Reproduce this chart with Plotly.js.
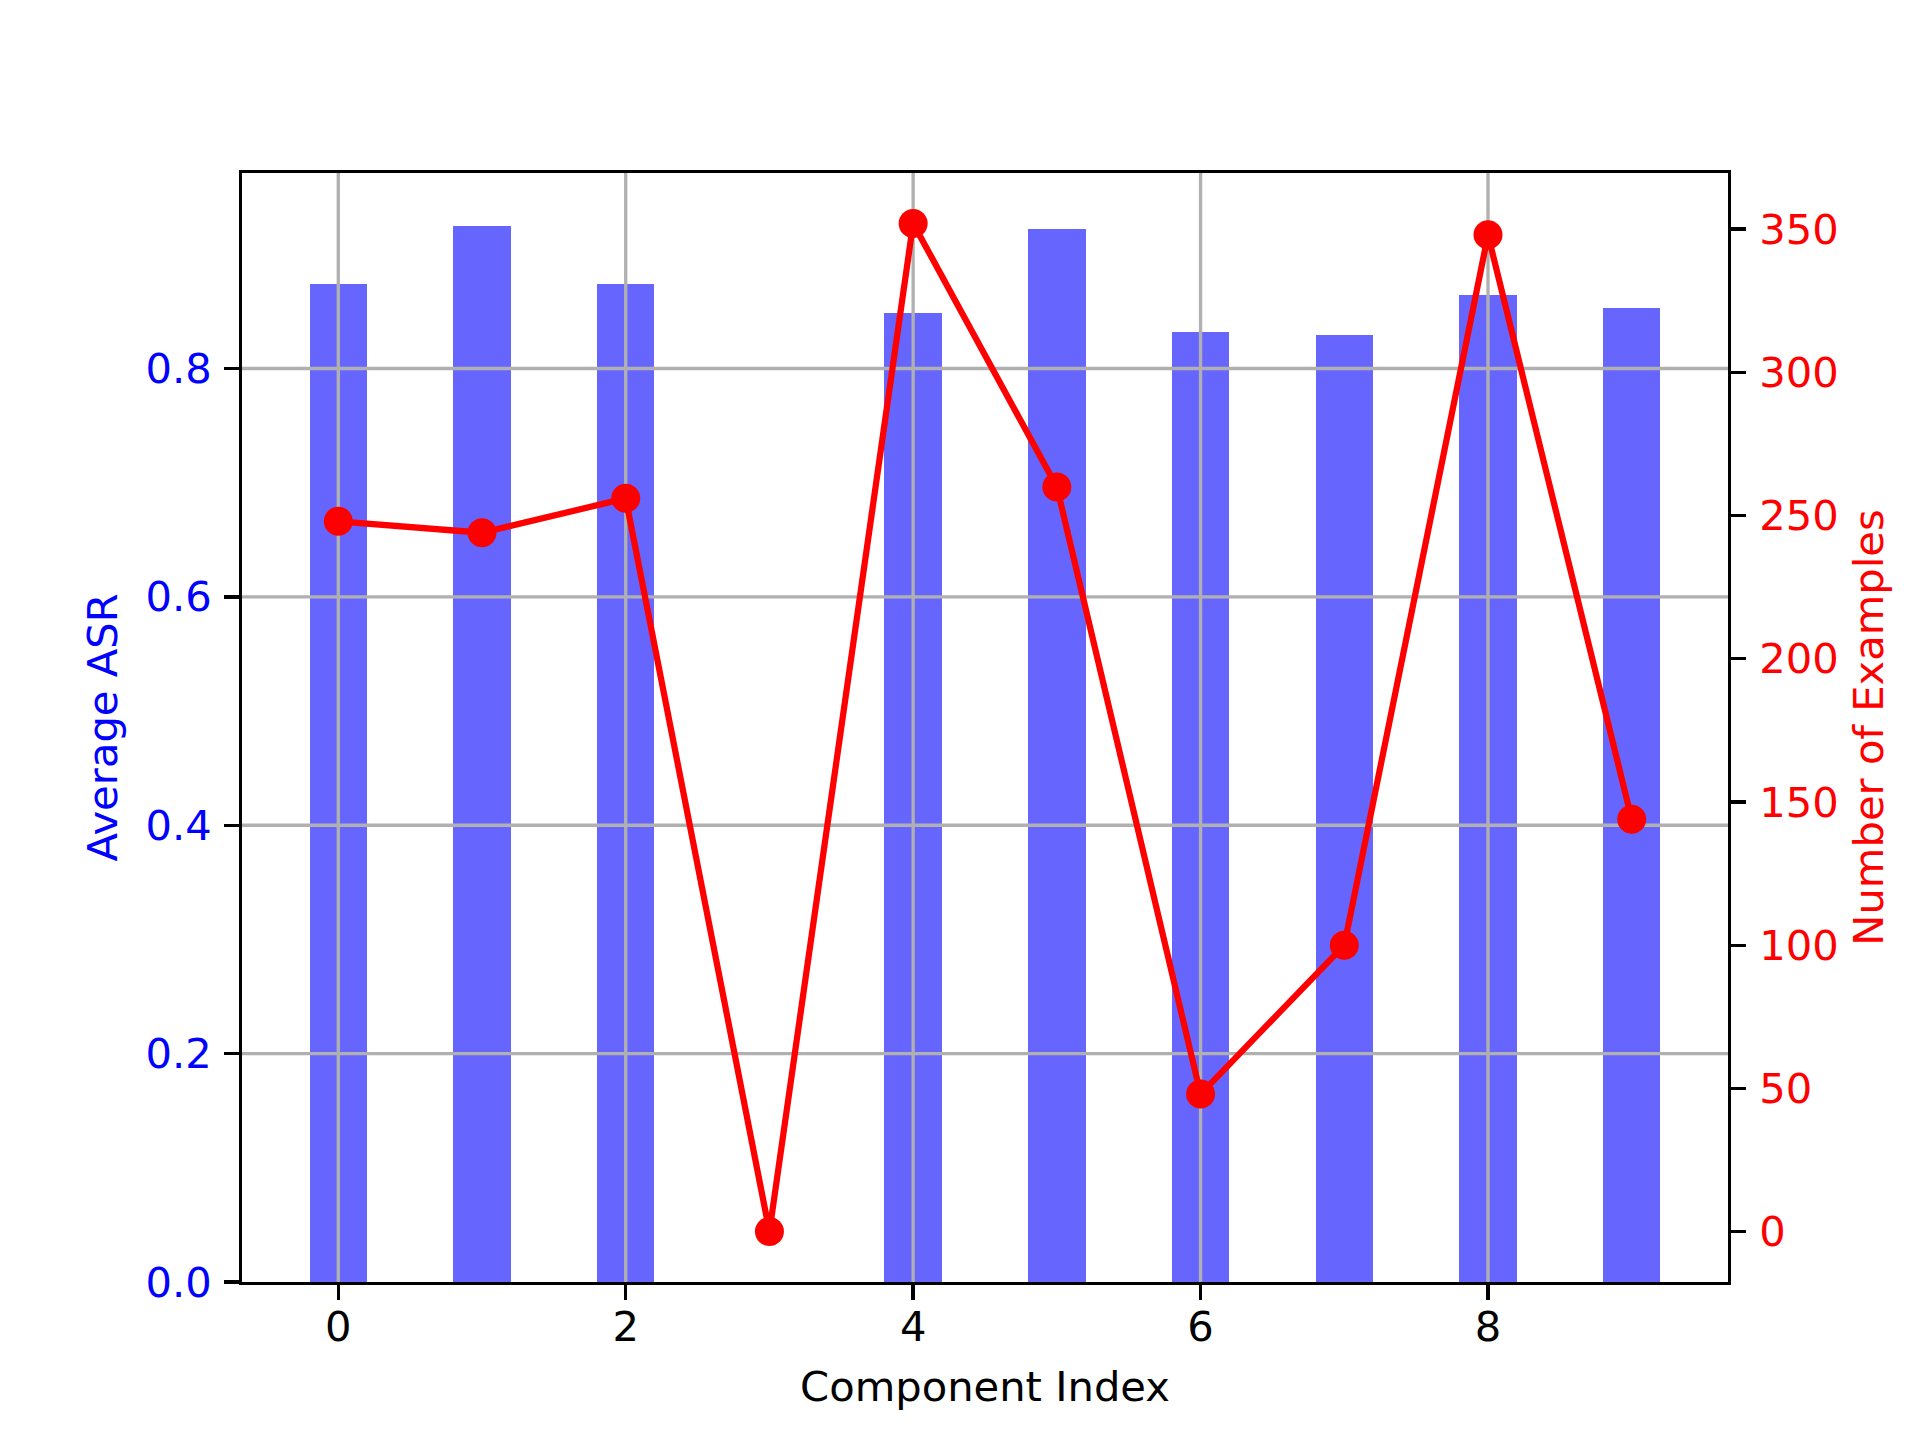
<!DOCTYPE html>
<html>
<head>
<meta charset="utf-8">
<script src="https://cdn.plot.ly/plotly-3.0.1.min.js"></script>
<style>html,body{margin:0;padding:0;background:#fff;}#chart{width:1920px;height:1440px;}</style>
</head>
<body>
<div id="chart"></div>
<script>
// Data
const componentIndex = [0, 1, 2, 3, 4, 5, 6, 7, 8, 9];
const averageASR = [0.874, 0.925, 0.874, 0.0, 0.849, 0.922, 0.832, 0.829, 0.864, 0.853];
const numExamples = [248, 244, 256, 0, 352, 260, 48, 100, 348, 144];
const xTickVals = [0, 2, 4, 6, 8];
const yTickVals = [0.0, 0.2, 0.4, 0.6, 0.8];
const y2TickVals = [0, 50, 100, 150, 200, 250, 300, 350];

const PT = 300 / 72;
const FS = 10 * PT;
const font = 'DejaVu Sans, Liberation Sans, sans-serif';

// axis ranges (matplotlib-style autoscale margins)
const barW = 0.4;
const xMin = Math.min(...componentIndex) - barW / 2, xMax = Math.max(...componentIndex) + barW / 2;
const xPad = (xMax - xMin) * 0.05;
const xRange = [xMin - xPad, xMax + xPad];
const yTop = Math.max(...averageASR) * 1.05;
const nMin = Math.min(...numExamples), nMax = Math.max(...numExamples);
const nPad = (nMax - nMin) * 0.05;
const y2Range = [nMin - nPad, nMax + nPad];

// grid lines drawn as traces so they sit above bars (like matplotlib)
const gx = [], gy = [];
xTickVals.forEach(t => { gx.push(t, t, null); gy.push(0, yTop, null); });
yTickVals.filter(v => v > 0).forEach(v => { gx.push(xRange[0], xRange[1], null); gy.push(v, v, null); });

const traces = [
  {
    type: 'bar', x: componentIndex, y: averageASR, width: barW,
    marker: {color: 'rgba(0,0,255,0.6)', line: {width: 0}},
    xaxis: 'x', yaxis: 'y', hoverinfo: 'skip', showlegend: false
  },
  {
    type: 'scatter', mode: 'lines', x: gx, y: gy,
    line: {color: '#b0b0b0', width: 0.8 * PT},
    xaxis: 'x', yaxis: 'y', hoverinfo: 'skip', showlegend: false, connectgaps: false
  },
  {
    type: 'scatter', mode: 'lines+markers', x: componentIndex, y: numExamples,
    line: {color: '#ff0000', width: 1.5 * PT},
    marker: {color: '#ff0000', size: 29},
    xaxis: 'x', yaxis: 'y2', hoverinfo: 'skip', showlegend: false, cliponaxis: false
  }
];

const axisCommon = {
  ticks: 'outside', ticklen: 3.5 * PT, tickwidth: 0.8 * PT, tickcolor: '#000',
  showline: true, linewidth: 0.8 * PT, linecolor: '#000',
  showgrid: false, zeroline: false, automargin: false
};

const layout = {
  width: 1920, height: 1440,
  paper_bgcolor: '#fff', plot_bgcolor: '#fff',
  margin: {l: 242, r: 192, t: 173, b: 158, pad: 0},
  font: {family: font, size: FS, color: '#000'},
  showlegend: false,
  bargap: 0,
  xaxis: Object.assign({}, axisCommon, {
    range: xRange, tickmode: 'array', tickvals: xTickVals, ticktext: xTickVals.map(String),
    mirror: true, tickfont: {family: font, size: FS, color: '#000'},
    ticklabelstandoff: -9,
    title: {text: 'Component Index', font: {family: font, size: FS, color: '#000'}, standoff: 23}
  }),
  yaxis: Object.assign({}, axisCommon, {
    range: [0, yTop], tickmode: 'array', tickvals: yTickVals, ticktext: yTickVals.map(v => v.toFixed(1)),
    tickfont: {family: font, size: FS, color: '#0000ff'},
    ticklabelstandoff: 4,
    title: {text: 'Average ASR', font: {family: font, size: FS, color: '#0000ff'}, standoff: 16}
  }),
  yaxis2: Object.assign({}, axisCommon, {
    overlaying: 'y', side: 'right', anchor: 'x',
    range: y2Range, tickmode: 'array', tickvals: y2TickVals, ticktext: y2TickVals.map(String),
    tickfont: {family: font, size: FS, color: '#ff0000'},
    ticklabelstandoff: 5,
    title: {text: 'Number of Examples', font: {family: font, size: FS, color: '#ff0000'}, standoff: 17}
  })
};

Plotly.newPlot('chart', traces, layout, {staticPlot: true, displayModeBar: false});
</script>
</body>
</html>
